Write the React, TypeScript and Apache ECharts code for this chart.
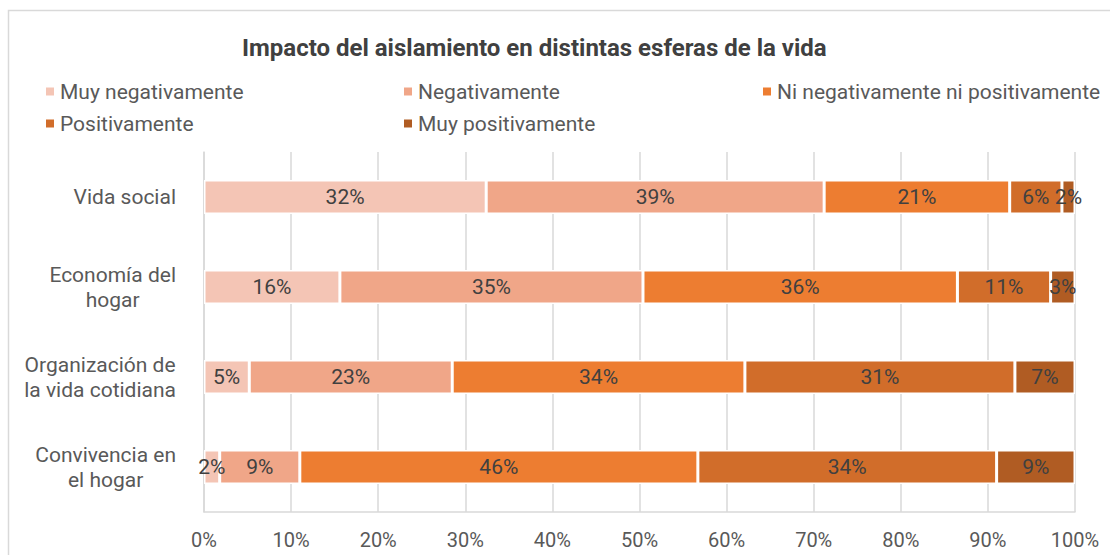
import React, { useEffect, useRef } from "react";
import * as echarts from "echarts";

const categories = [
  "Vida social",
  "Economía del\nhogar",
  "Organización de\nla vida cotidiana",
  "Convivencia en\nel hogar",
];
const seriesNames = [
  "Muy negativamente",
  "Negativamente",
  "Ni negativamente ni positivamente",
  "Positivamente",
  "Muy positivamente",
];
const muyNegativamente = [32.4, 15.6, 5.2, 1.8];
const negativamente = [38.8, 34.8, 23.3, 9.2];
const niNi = [21.3, 36.1, 33.6, 45.7];
const positivamente = [6.0, 10.7, 31.0, 34.3];
const muyPositivamente = [1.5, 2.8, 6.9, 9.0];
const colors = ["#f4c5b5", "#f0a688", "#ed7d31", "#d16d2a", "#b05c23"];

const seriesData = [muyNegativamente, negativamente, niNi, positivamente, muyPositivamente];

const legendPos = [
  { left: 44, top: 81 },
  { left: 402, top: 81 },
  { left: 761, top: 81 },
  { left: 44, top: 113 },
  { left: 402, top: 113 },
];

export default function App() {
  const ref = useRef<HTMLDivElement>(null);
  useEffect(() => {
    if (!ref.current) return;
    const chart = echarts.init(ref.current, null, { renderer: "svg" });
    const font = "Roboto";
    chart.setOption({
      animation: false,
      backgroundColor: "#ffffff",
      title: {
        text: "Impacto del aislamiento en distintas esferas de la vida",
        left: 237,
        top: 31,
        textStyle: { fontFamily: font, fontSize: 24, fontWeight: "bold", color: "#404040" },
      },
      graphic: [
        {
          type: "rect",
          shape: { x: 8.5, y: 10.5, width: 1300, height: 700 },
          style: { fill: "none", stroke: "#d9d9d9", lineWidth: 1.5 },
          silent: true,
        },
      ],
      legend: seriesNames.map((n, i) => ({
        data: [n],
        left: legendPos[i].left,
        top: legendPos[i].top,
        icon: "rect",
        itemWidth: 10,
        itemHeight: 10,
        padding: 0,
        textStyle: { fontFamily: font, fontSize: 21, color: "#595959" },
      })),
      grid: { left: 204, right: 35, top: 152, bottom: 43 },
      xAxis: {
        type: "value",
        min: 0,
        max: 100,
        interval: 10,
        axisLabel: {
          formatter: "{value}%",
          fontFamily: font,
          fontSize: 20,
          color: "#595959",
          margin: 18,
        },
        axisLine: { show: true, lineStyle: { color: "#d9d9d9", width: 1.5 } },
        axisTick: { show: false },
        splitLine: { show: true, lineStyle: { color: "#d9d9d9", width: 1.5 } },
      },
      yAxis: {
        type: "category",
        inverse: true,
        data: categories,
        axisLine: { show: true, lineStyle: { color: "#d9d9d9", width: 1.5 } },
        axisTick: { show: false },
        axisLabel: {
          fontFamily: font,
          fontSize: 21,
          color: "#595959",
          margin: 28,
          lineHeight: 25,
          formatter: (v: string) => v.split("\n").map((l) => `{c|${l}}`).join("\n"),
          rich: { c: { align: "center", fontFamily: font, fontSize: 21, color: "#595959", lineHeight: 25 } },
        },
      },
      series: seriesNames.map((n, i) => ({
        name: n,
        type: "bar",
        stack: "total",
        barWidth: 34,
        data: seriesData[i],
        itemStyle: { color: colors[i], borderColor: "#ffffff", borderWidth: 1.5 },
        label: {
          show: true,
          position: "inside",
          formatter: (p: any) => `${Math.round(p.value)}%`,
          fontFamily: font,
          fontSize: 21,
          color: "#404040",
        },
      })),
    });
    return () => chart.dispose();
  }, []);
  return (
    <div
      ref={ref}
      style={{ position: "fixed", left: 0, top: 0, width: 1110, height: 555 }}
    />
  );
}
